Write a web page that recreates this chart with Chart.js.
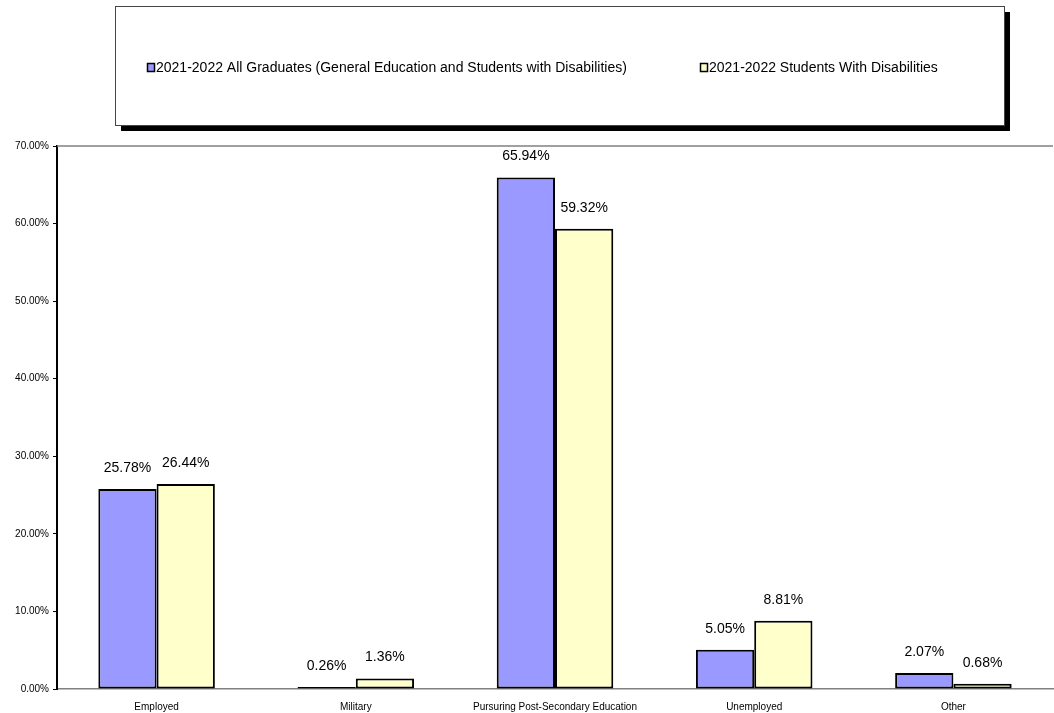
<!DOCTYPE html>
<html>
<head>
<meta charset="utf-8">
<script src="https://cdn.jsdelivr.net/npm/chart.js@4/dist/chart.umd.min.js"></script>
<style>
  html, body { margin: 0; padding: 0; background: #fff; }
  #wrap { width: 1054px; height: 713px; position: relative; }
</style>
</head>
<body>
<div id="wrap"><canvas id="chart"></canvas></div>
<script>
// data
const categories = ["Employed", "Military", "Pursuring Post-Secondary Education", "Unemployed", "Other"];
const allGraduates = [25.78, 0.26, 65.94, 5.05, 2.07];
const studentsWithDisabilities = [26.44, 1.36, 59.32, 8.81, 0.68];
const seriesNames = [
  "2021-2022 All Graduates (General Education and Students with Disabilities)",
  "2021-2022 Students With Disabilities"
];
const seriesColors = ["#9999FF", "#FFFFCC"];

const FONT = "'Liberation Sans', Arial, sans-serif";

// legend box with shadow, drawn by hand
const legendBox = {
  id: "legendBox",
  afterDraw(chart) {
    const ctx = chart.ctx;
    const x = 115, y = 6, w = 889, h = 119;
    ctx.save();
    ctx.fillStyle = "#000";
    ctx.fillRect(x + 6, y + 6, w, h);
    ctx.fillStyle = "#fff";
    ctx.fillRect(x, y, w, h);
    ctx.strokeStyle = "#444";
    ctx.lineWidth = 1;
    ctx.strokeRect(x + 0.5, y + 0.5, w, h);
    ctx.font = "14px " + FONT;
    ctx.textBaseline = "middle";
    ctx.fillStyle = "#000";
    const items = [[148, seriesNames[0], seriesColors[0]], [701, seriesNames[1], seriesColors[1]]];
    items.forEach(([lx, txt, col]) => {
      ctx.fillStyle = col;
      ctx.fillRect(lx - 0.5, 63.5, 7, 8);
      ctx.strokeStyle = "#000";
      ctx.lineWidth = 1.5;
      ctx.strokeRect(lx - 0.5, 63.5, 7, 8);
      ctx.fillStyle = "#000";
      ctx.fillText(txt, lx + 8, 68);
    });
    ctx.restore();
  }
};

// top border of the plot area + value labels
const extras = {
  id: "extras",
  afterDatasetsDraw(chart) {
    const ctx = chart.ctx;
    const a = chart.chartArea;
    ctx.save();
    ctx.strokeStyle = "#808080";
    ctx.lineWidth = 1.5;
    ctx.beginPath();
    ctx.moveTo(a.left, a.top);
    ctx.lineTo(a.right, a.top);
    ctx.stroke();

    ctx.font = "14px " + FONT;
    ctx.fillStyle = "#000";
    ctx.textAlign = "center";
    ctx.textBaseline = "middle";
    chart.data.datasets.forEach((ds, i) => {
      chart.getDatasetMeta(i).data.forEach((bar, j) => {
        ctx.fillText(ds.data[j].toFixed(2) + "%", bar.x, bar.y - 21);
      });
    });
    ctx.restore();
  }
};

new Chart(document.getElementById("chart"), {
  type: "bar",
  data: {
    labels: categories,
    datasets: [
      { label: seriesNames[0], data: allGraduates, backgroundColor: seriesColors[0],
        borderColor: "#000", borderWidth: 2, borderSkipped: false },
      { label: seriesNames[1], data: studentsWithDisabilities, backgroundColor: seriesColors[1],
        borderColor: "#000", borderWidth: 2, borderSkipped: false }
    ]
  },
  options: {
    responsive: true,
    maintainAspectRatio: false,
    animation: false,
    layout: { padding: { top: 146, right: 1, bottom: 0, left: 0 } },
    datasets: { bar: { categoryPercentage: 0.585, barPercentage: 1 } },
    plugins: {
      legend: { display: false },
      tooltip: { enabled: false }
    },
    scales: {
      x: {
        grid: { display: false },
        border: { color: "#808080", width: 1.5 },
        ticks: { color: "#000", font: { family: FONT, size: 10 }, maxRotation: 0, padding: 4 },
        afterFit(scale) { scale.height = 24; }
      },
      y: {
        min: 0,
        max: 70,
        grid: { drawOnChartArea: false, tickLength: 4, color: "#000", lineWidth: 1 },
        border: { color: "#000", width: 2 },
        ticks: {
          stepSize: 10,
          color: "#000",
          font: { family: FONT, size: 10 },
          padding: 4,
          callback: v => v.toFixed(2) + "%"
        },
        afterFit(scale) { scale.width = 57; }
      }
    }
  },
  plugins: [legendBox, extras]
});
</script>
</body>
</html>
